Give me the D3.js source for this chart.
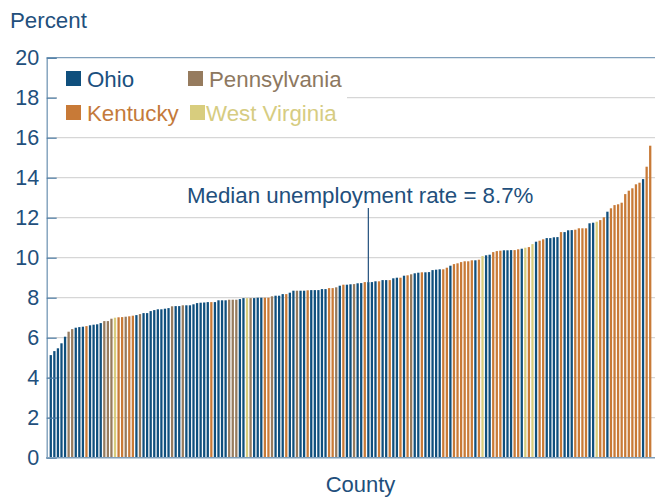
<!DOCTYPE html>
<html><head><meta charset="utf-8">
<script src="https://cdn.jsdelivr.net/npm/d3@7/dist/d3.min.js"></script>
<style>html,body{margin:0;padding:0;background:#fff;}svg{display:block;font-family:"Liberation Sans",Arial,sans-serif;}</style>
</head><body><svg id="c" width="655" height="497"></svg>
<script>
// ---- data ----
const states = ["OH","OH","OH","OH","OH","PA","PA","OH","OH","OH","KY","OH","OH","OH","OH","PA","PA","PA","WV","KY",
"KY","PA","KY","KY","OH","PA","OH","OH","OH","OH","OH","OH","OH","OH","PA","OH","OH","PA","OH","OH",
"OH","OH","OH","OH","OH","KY","OH","OH","OH","OH","PA","PA","PA","OH","OH","WV","PA","OH","OH","OH",
"KY","KY","PA","OH","OH","OH","KY","OH","OH","PA","OH","OH","KY","OH","OH","OH","OH","OH","KY","KY",
"PA","OH","KY","OH","OH","PA","OH","OH","KY","OH","OH","OH","KY","OH","OH","KY","OH","OH","KY","OH",
"KY","PA","OH","OH","KY","OH","OH","OH","OH","OH","KY","KY","OH","KY","KY","KY","KY","KY","KY","OH",
"KY","WV","OH","OH","KY","KY","KY","OH","OH","OH","KY","KY","OH","WV","KY","WV","OH","KY","KY","OH",
"OH","OH","OH","KY","OH","OH","OH","KY","KY","KY","KY","OH","OH","WV","KY","KY","OH","KY","KY","KY",
"KY","KY","KY","KY","KY","KY","OH","KY","KY"];
const values = [5.13,5.33,5.47,5.72,6.05,6.30,6.43,6.50,6.53,6.55,6.58,6.62,6.65,6.67,6.73,6.83,6.83,6.95,7.00,7.02,
7.03,7.05,7.07,7.10,7.13,7.18,7.23,7.23,7.33,7.38,7.42,7.42,7.45,7.48,7.57,7.58,7.58,7.62,7.62,7.62,
7.67,7.73,7.75,7.76,7.78,7.78,7.78,7.87,7.87,7.87,7.90,7.90,7.90,7.93,7.98,7.98,7.98,7.98,8.00,8.00,
8.00,8.00,8.07,8.10,8.10,8.18,8.18,8.25,8.35,8.35,8.35,8.35,8.37,8.38,8.38,8.38,8.43,8.43,8.48,8.48,
8.52,8.60,8.65,8.65,8.67,8.68,8.72,8.73,8.78,8.78,8.78,8.82,8.82,8.88,8.88,8.88,8.97,9.00,9.00,9.10,
9.12,9.17,9.22,9.25,9.27,9.27,9.28,9.38,9.40,9.42,9.42,9.50,9.60,9.68,9.72,9.78,9.82,9.82,9.87,9.87,
9.90,10.08,10.12,10.15,10.28,10.33,10.35,10.37,10.37,10.38,10.38,10.42,10.45,10.50,10.53,10.68,10.80,10.85,10.92,10.98,
10.98,11.02,11.03,11.28,11.28,11.37,11.38,11.40,11.47,11.47,11.47,11.72,11.75,11.80,11.88,12.02,12.30,12.47,12.63,12.67,
12.75,13.18,13.35,13.47,13.67,13.75,13.93,14.55,15.60];
const counties = values.map((v,i)=>i+1);
const yTicks = [0,2,4,6,8,10,12,14,16,18,20];
const legendKeys = ["OH","PA","KY","WV"];
const legendLabels = ["Ohio","Pennsylvania","Kentucky","West Virginia"];
const medianCounty = [90];
const medianLabel = "Median unemployment rate = 8.7%";

// ---- styles ----
const colors = {OH:"#0f4f7d", PA:"#967b5e", KY:"#c87a37", WV:"#d8cd7e"};
const textColors = {OH:"#1a4f7e", PA:"#8d7860", KY:"#c47a3b", WV:"#d6cc82"};
const axisColor = "#7f9fbb";
const tickColor = "#4f7ea6";
const labelColor = "#224f7c";
const gridColor = "#d6d6d6";
const fs = "22.3px";

const svg = d3.select("#c");
svg.append("rect").attr("width",655).attr("height",497).attr("fill","#fff");

const x = d3.scaleBand().domain(counties).range([49,652]).paddingInner(0.36).paddingOuter(0.18);
const y = d3.scaleLinear().domain([0,20]).range([457.7,57.7]);

// gridlines
svg.append("g").selectAll("line").data(yTicks.filter(t=>t>0&&t<20)).join("line")
  .attr("x1",47).attr("x2",655).attr("y1",d=>y(d)).attr("y2",d=>y(d))
  .attr("stroke",gridColor).attr("stroke-width",1.2);

// top border
svg.append("line").attr("x1",46.7).attr("x2",655).attr("y1",y(20)).attr("y2",y(20))
  .attr("stroke",axisColor).attr("stroke-width",1.2);

// legend background
svg.append("rect").attr("x",57).attr("y",62).attr("width",290).attr("height",66).attr("fill","#fff");

// bars
svg.append("g").selectAll("rect").data(counties).join("rect")
  .attr("x",d=>x(d)).attr("width",x.bandwidth())
  .attr("y",(d,i)=>y(values[i])).attr("height",(d,i)=>y(0)-y(values[i]))
  .attr("fill",(d,i)=>colors[states[i]]);

// y axis
const yAxis = d3.axisLeft(y).tickValues(yTicks).tickSize(-10).tickPadding(8).tickFormat(d3.format("d"));
const gy = svg.append("g").attr("transform","translate(46.7,0)").call(yAxis);
gy.select(".domain").attr("stroke",axisColor).attr("stroke-width",1.4);
gy.selectAll(".tick line").attr("stroke",tickColor).attr("stroke-width",1.2);
gy.selectAll(".tick text").attr("fill",labelColor).attr("font-size","21.5px")
  .attr("font-family","'Liberation Sans',Arial,sans-serif").attr("x",-7.5);

// x axis line
svg.append("line").attr("x1",46).attr("x2",655).attr("y1",y(0)).attr("y2",y(0))
  .attr("stroke",axisColor).attr("stroke-width",1.6);

// axis titles
svg.append("text").attr("x",10).attr("y",28).attr("fill",labelColor).attr("font-size",fs).text("Percent");
svg.append("text").attr("x",360.5).attr("y",492).attr("text-anchor","middle").attr("fill",labelColor).attr("font-size","22px").text("County");

// legend
const lpos = [[66,71],[188,71],[66,105],[190,105]];
legendKeys.forEach((k,i)=>{
  svg.append("rect").attr("x",lpos[i][0]).attr("y",lpos[i][1]).attr("width",15).attr("height",15).attr("fill",colors[k]);
  svg.append("text").attr("x",lpos[i][0]+(k==="WV"?16:21)).attr("y",lpos[i][1]+16).attr("fill",textColors[k])
    .attr("font-size",fs).text(legendLabels[i]);
});

// median annotation
medianCounty.forEach(c=>{
  const cx = x(c)+x.bandwidth()/2;
  svg.append("line").attr("x1",cx).attr("x2",cx).attr("y1",208).attr("y2",y(values[c-1]))
    .attr("stroke",labelColor).attr("stroke-width",1.2);
});
svg.append("text").attr("x",187).attr("y",203).attr("fill",labelColor).attr("font-size",fs).text(medianLabel);
</script></body></html>
